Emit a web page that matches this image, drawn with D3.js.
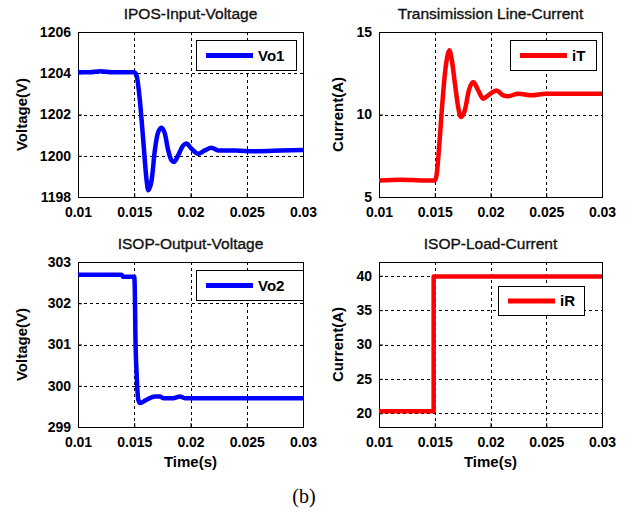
<!DOCTYPE html>
<html>
<head>
<meta charset="utf-8">
<script src="https://cdn.jsdelivr.net/npm/d3@7"></script>
<style>
  body { margin: 0; background: #fff; }
  svg { font-family: "Liberation Sans", Arial, sans-serif; }
  .tick text { font-size: 14px; font-weight: bold; fill: #000; }
  .tick line { stroke: #000; }
</style>
</head>
<body>
<script>
// time axis shared by all four plots
const timeTicks = [0.01, 0.015, 0.02, 0.025, 0.03]

// IPOS input voltage
const vo1T = [0.01, 0.011, 0.012, 0.013, 0.014, 0.015, 0.0152, 0.0155, 0.0158, 0.0161, 0.01624, 0.01654, 0.01683, 0.01713, 0.01743, 0.01772, 0.01802, 0.01831, 0.01855, 0.0189, 0.01935, 0.01964, 0.02009, 0.02068, 0.02127, 0.02186, 0.02246, 0.024, 0.026, 0.028, 0.03]
const vo1V = [1204.05, 1204.05, 1204.1, 1204.05, 1204.05, 1204.05, 1203.9, 1202.69, 1200.75, 1198.8, 1198.33, 1198.8, 1200.26, 1201.15, 1201.36, 1201.07, 1200.26, 1199.78, 1199.7, 1200.02, 1200.5, 1200.59, 1200.34, 1200.1, 1200.26, 1200.39, 1200.26, 1200.25, 1200.22, 1200.25, 1200.28]
const vo1Ticks = [1198, 1200, 1202, 1204, 1206]

// transmission line current
const itT = [0.01, 0.012, 0.014, 0.015, 0.01516, 0.01537, 0.01561, 0.01591, 0.01615, 0.0163, 0.01651, 0.01681, 0.0171, 0.01734, 0.0177, 0.01806, 0.01845, 0.0189, 0.01934, 0.01979, 0.02054, 0.02113, 0.02158, 0.02248, 0.02367, 0.025, 0.03]
const itI = [6.0, 6.05, 6.0, 6.0, 6.31, 7.83, 10.05, 12.47, 13.59, 13.89, 13.38, 11.87, 10.45, 9.85, 10.25, 11.46, 11.97, 11.46, 10.96, 11.16, 11.46, 11.16, 11.1, 11.26, 11.16, 11.26, 11.26]
const itTicks = [5, 10, 15]

// ISOP output voltage
const vo2T = [0.01, 0.0139, 0.014, 0.015, 0.01506, 0.0151, 0.01521, 0.01536, 0.0155, 0.0161, 0.01683, 0.01728, 0.01757, 0.01846, 0.01905, 0.0195, 0.03]
const vo2V = [302.69, 302.69, 302.64, 302.64, 302.15, 301.27, 300.3, 299.66, 299.58, 299.66, 299.74, 299.74, 299.7, 299.7, 299.74, 299.7, 299.7]
const vo2Ticks = [299, 300, 301, 302, 303]

// ISOP load current
const irT = [0.01, 0.0149, 0.0149, 0.03]
const irI = [20.3, 20.3, 39.9, 39.9]
const irTicks = [20, 25, 30, 35, 40]

const W = 635
const H = 516

const svg = d3.select('body')
  .append('svg')
  .attr('width', W)
  .attr('height', H)

const panels = [
  { title: 'IPOS-Input-Voltage', ylabel: 'Voltage(V)', name: 'Vo1', color: '#0000ff',
    t: vo1T, v: vo1V, ticks: vo1Ticks, domain: [1198, 1206],
    box: { x: 78, y: 32, w: 225, h: 165 }, labelX: 22, xlabel: false,
    legend: { x: 196, y: 40, w: 100, h: 30 } },
  { title: 'Transimission Line-Current', ylabel: 'Current(A)', name: 'iT', color: '#ff0000',
    t: itT, v: itI, ticks: itTicks, domain: [5, 15],
    box: { x: 379, y: 32, w: 223, h: 165 }, labelX: 338, xlabel: false,
    legend: { x: 510, y: 40, w: 86, h: 30 } },
  { title: 'ISOP-Output-Voltage', ylabel: 'Voltage(V)', name: 'Vo2', color: '#0000ff',
    t: vo2T, v: vo2V, ticks: vo2Ticks, domain: [299, 303],
    box: { x: 78, y: 262, w: 225, h: 165 }, labelX: 22, xlabel: true,
    legend: { x: 196, y: 270, w: 107, h: 30 } },
  { title: 'ISOP-Load-Current', ylabel: 'Current(A)', name: 'iR', color: '#ff0000',
    t: irT, v: irI, ticks: irTicks, domain: [18, 42],
    box: { x: 379, y: 262, w: 223, h: 165 }, labelX: 338, xlabel: true,
    legend: { x: 498, y: 286, w: 86, h: 29 } }
]

panels.forEach((p, i) => {
  const b = p.box
  const x = d3.scaleLinear().domain([0.01, 0.03]).range([b.x, b.x + b.w])
  const y = d3.scaleLinear().domain(p.domain).range([b.y + b.h, b.y])
  const g = svg.append('g')

  // dashed grid at the inner ticks
  g.selectAll('line.gx')
    .data(timeTicks.slice(1, -1))
    .join('line')
    .attr('x1', d => Math.round(x(d)) + 0.5)
    .attr('x2', d => Math.round(x(d)) + 0.5)
    .attr('y1', b.y)
    .attr('y2', b.y + b.h)
    .attr('stroke', '#000')
    .attr('stroke-dasharray', '3,3')

  g.selectAll('line.gy')
    .data(p.ticks.filter(d => d > p.domain[0] && d < p.domain[1]))
    .join('line')
    .attr('x1', b.x)
    .attr('x2', b.x + b.w)
    .attr('y1', d => Math.round(y(d)) + 0.5)
    .attr('y2', d => Math.round(y(d)) + 0.5)
    .attr('stroke', '#000')
    .attr('stroke-dasharray', '3,3')

  // axes with small inward ticks
  const xAxis = d3.axisBottom(x)
    .tickValues(timeTicks)
    .tickFormat(d => String(d))
    .tickSizeInner(-4)
    .tickSizeOuter(0)
    .tickPadding(10)
  g.append('g')
    .attr('transform', `translate(0,${b.y + b.h})`)
    .call(xAxis)
    .call(a => a.select('.domain').remove())
    .call(a => a.selectAll('text').attr('font-family', null).attr('font-size', null))

  const yAxis = d3.axisLeft(y)
    .tickValues(p.ticks)
    .tickFormat(d => String(d))
    .tickSizeInner(-4)
    .tickSizeOuter(0)
    .tickPadding(7)
  g.append('g')
    .attr('transform', `translate(${b.x},0)`)
    .call(yAxis)
    .call(a => a.select('.domain').remove())
    .call(a => a.selectAll('text').attr('font-family', null).attr('font-size', null))

  // frame
  g.append('rect')
    .attr('x', b.x + 0.5)
    .attr('y', b.y + 0.5)
    .attr('width', b.w)
    .attr('height', b.h)
    .attr('fill', 'none')
    .attr('stroke', '#000')

  // data line, clipped to the frame
  g.append('clipPath')
    .attr('id', 'clip' + i)
    .append('rect')
    .attr('x', b.x)
    .attr('y', b.y)
    .attr('width', b.w + 1)
    .attr('height', b.h + 1)

  const line = d3.line()
    .x(d => x(d[0]))
    .y(d => y(d[1]))
    .curve(d3.curveMonotoneX)

  g.append('path')
    .datum(d3.zip(p.t, p.v))
    .attr('clip-path', `url(#clip${i})`)
    .attr('d', line)
    .attr('fill', 'none')
    .attr('stroke', p.color)
    .attr('stroke-width', 4.5)
    .attr('stroke-linejoin', 'round')

  // legend
  const L = p.legend
  g.append('rect')
    .attr('x', L.x + 0.5)
    .attr('y', L.y + 0.5)
    .attr('width', L.w)
    .attr('height', L.h)
    .attr('fill', '#fff')
    .attr('stroke', '#000')
  g.append('line')
    .attr('x1', L.x + 10)
    .attr('x2', L.x + 57)
    .attr('y1', L.y + L.h / 2 + 0.5)
    .attr('y2', L.y + L.h / 2 + 0.5)
    .attr('stroke', p.color)
    .attr('stroke-width', 5)
  g.append('text')
    .attr('x', L.x + 62)
    .attr('y', L.y + L.h / 2 + 5.5)
    .attr('font-size', 15)
    .attr('font-weight', 'bold')
    .text(p.name)

  // titles and labels
  g.append('text')
    .attr('x', b.x + b.w / 2)
    .attr('y', b.y - 13)
    .attr('text-anchor', 'middle')
    .attr('font-size', 15.5)
    .attr('fill', '#111')
    .attr('stroke', '#111')
    .attr('stroke-width', 0.35)
    .text(p.title)

  g.append('text')
    .attr('transform', `translate(${p.labelX + 5},${b.y + b.h / 2}) rotate(-90)`)
    .attr('text-anchor', 'middle')
    .attr('font-size', 15)
    .attr('font-weight', 'bold')
    .text(p.ylabel)

  if (p.xlabel) {
    g.append('text')
      .attr('x', b.x + b.w / 2)
      .attr('y', b.y + b.h + 40)
      .attr('text-anchor', 'middle')
      .attr('font-size', 15)
      .attr('font-weight', 'bold')
      .text('Time(s)')
  }
})

svg.append('text')
  .attr('x', 304)
  .attr('y', 503)
  .attr('text-anchor', 'middle')
  .attr('font-family', '"Liberation Serif", "Times New Roman", serif')
  .attr('font-size', 20)
  .text('(b)')
</script>
</body>
</html>
